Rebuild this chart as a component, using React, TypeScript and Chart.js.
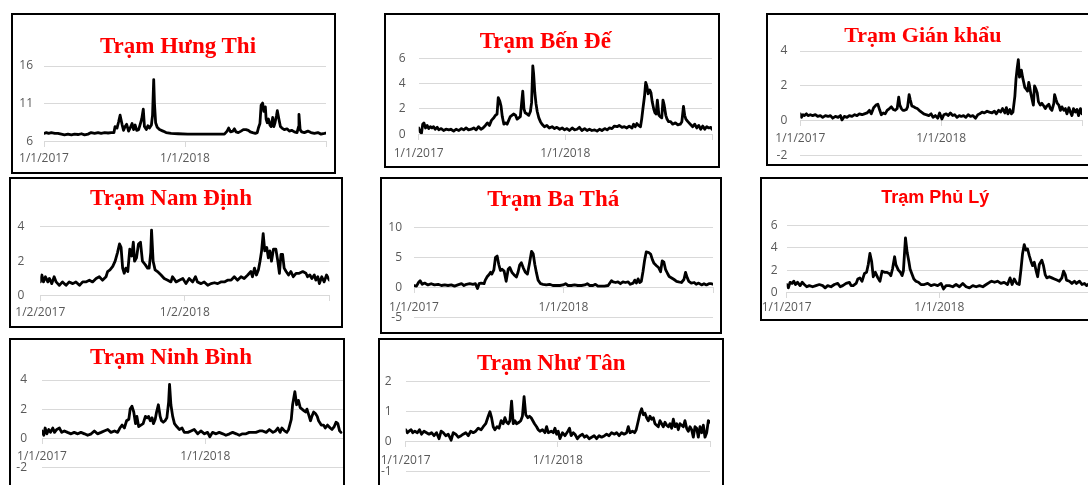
import React, { useEffect, useRef } from 'react';
import { Chart, registerables } from 'chart.js';

Chart.register(...registerables);

// ---- shared x axis (days since 1/1/2017) ----
const xTickDays = [0, 365, 730];
const xTickLabels = ['1/1/2017', '1/1/2018', ''];
const xTickLabelsNamDinh = ['1/2/2017', '1/2/2018', ''];

// ---- Trạm Hưng Thi ----
const hungThiDays = [0,6,12,19,28,36,45,53,62,71,79,88,97,105,114,122,131,140,148,157,166,174,181,184,189,193,197,202,206,210,214,219,223,228,232,236,240,245,249,253,257,260,265,269,273,278,281,284,286,289,293,299,308,316,329,347,372,398,424,450,467,474,478,483,489,493,497,503,510,516,523,529,534,540,547,552,555,559,562,566,569,573,575,578,581,585,588,592,595,598,602,604,608,612,616,622,629,635,641,648,655,659,660,663,667,674,683,691,700,709,717,726,730];
const hungThiValues = [7.1,7.2,7.1,7.2,7.1,7.1,7.0,6.9,7.0,6.9,7.0,6.95,7.05,6.9,7.0,7.2,7.1,7.2,7.1,7.2,7.15,7.2,7.2,8.0,7.8,8.6,9.5,8.3,7.5,8.0,8.3,7.4,7.8,8.4,7.6,8.2,7.5,7.6,8.3,9.0,10.3,8.0,7.6,8.1,7.8,8.2,9.5,14.2,11.0,8.5,7.9,7.6,7.4,7.2,7.1,7.05,7.0,7.0,7.0,7.0,7.0,7.4,7.8,7.3,7.4,7.7,7.3,7.2,7.4,7.6,7.6,7.5,7.3,7.2,7.1,7.2,7.8,8.4,10.8,11.1,10.0,10.6,9.0,8.5,9.0,8.2,8.0,9.2,8.0,8.5,9.5,10.1,9.0,8.0,7.8,7.6,7.7,7.4,7.5,7.3,7.2,8.0,9.6,7.6,7.3,7.2,7.4,7.2,7.1,7.2,7.0,7.1,7.15];

// ---- Trạm Bến Đế ----
const benDeDays = [0,3,7,10,13,17,21,25,29,33,37,41,46,50,56,62,68,75,80,87,93,100,106,112,118,124,131,137,143,149,155,160,166,171,176,181,187,191,195,198,202,205,208,212,216,220,224,228,232,236,241,245,249,253,256,259,262,265,270,274,278,281,284,286,289,292,295,299,303,307,313,319,325,332,338,344,351,357,363,369,375,382,388,394,400,406,413,419,425,431,438,444,450,456,463,469,475,481,487,494,499,506,512,518,524,531,535,539,543,547,552,555,558,562,565,568,571,575,578,581,585,588,591,594,598,601,605,608,611,615,618,622,627,632,639,645,651,655,659,662,665,670,676,682,687,692,697,702,707,712,717,722,727,730];
const benDeValues = [0.5,0.2,0.1,0.8,0.9,0.5,0.7,0.45,0.6,0.5,0.6,0.4,0.55,0.35,0.45,0.3,0.4,0.35,0.4,0.25,0.4,0.3,0.45,0.35,0.5,0.35,0.4,0.5,0.35,0.6,0.4,0.5,0.7,0.9,0.7,1.1,1.3,1.5,1.6,2.9,2.6,2.2,1.4,0.8,0.9,0.8,1.1,1.4,1.5,1.6,1.5,1.2,1.3,1.4,2.4,3.4,2.0,1.7,1.6,1.5,1.8,2.5,5.4,4.8,3.3,2.4,1.8,1.3,1.0,0.8,0.6,0.7,0.5,0.6,0.45,0.55,0.4,0.5,0.35,0.45,0.3,0.5,0.35,0.4,0.55,0.3,0.45,0.3,0.4,0.3,0.35,0.25,0.4,0.3,0.45,0.35,0.5,0.45,0.65,0.6,0.7,0.55,0.6,0.5,0.65,0.5,0.8,0.6,0.85,0.7,0.6,1.2,2.0,3.0,4.1,3.8,3.2,3.5,3.3,2.6,2.0,1.7,1.6,2.7,1.5,1.4,1.3,2.7,2.3,1.5,1.2,1.0,1.0,0.8,0.9,0.75,0.8,1.0,2.2,1.5,1.2,1.0,0.8,0.6,0.8,0.5,0.7,0.4,0.65,0.4,0.6,0.5,0.55,0.4];

// ---- Trạm Gián khẩu ----
const gianKhauDays = [0,3,7,11,16,20,26,32,39,45,52,58,65,72,78,84,91,98,104,108,114,121,127,134,141,147,153,160,166,173,179,184,190,196,201,206,210,215,220,225,231,236,241,246,251,255,258,262,266,270,275,278,282,285,289,294,298,303,308,314,320,326,333,339,344,350,356,361,367,372,378,383,389,395,400,406,412,417,423,429,435,441,447,454,460,465,471,477,484,490,497,503,508,514,519,524,530,534,538,543,547,551,556,559,562,565,568,570,573,576,579,582,586,589,592,594,597,600,604,607,611,614,617,622,626,631,635,639,644,648,652,657,659,663,666,670,674,678,683,687,691,696,700,704,708,713,717,721,726,730];
const gianKhauValues = [0.4,0.2,0.35,0.3,0.4,0.3,0.35,0.3,0.35,0.25,0.3,0.2,0.3,0.25,0.3,0.15,0.25,0.2,0.3,0.05,0.25,0.2,0.3,0.25,0.35,0.3,0.4,0.35,0.4,0.45,0.6,0.4,0.75,0.9,0.95,0.6,0.35,0.45,0.4,0.6,0.7,0.8,0.65,0.6,0.7,1.35,0.9,0.7,0.6,0.6,0.65,0.8,1.5,1.2,0.85,0.8,0.75,0.7,0.6,0.5,0.4,0.35,0.3,0.4,0.2,0.3,0.15,0.45,0.1,0.35,0.4,0.3,0.45,0.3,0.35,0.2,0.3,0.25,0.3,0.2,0.35,0.25,0.3,0.15,0.35,0.4,0.5,0.45,0.55,0.5,0.45,0.55,0.4,0.6,0.5,0.7,0.45,0.75,0.4,0.65,0.4,0.5,1.4,2.4,3.0,3.5,2.5,2.6,2.9,2.5,2.2,1.9,1.8,1.7,2.2,2.0,1.6,1.3,0.9,2.0,1.8,1.6,1.1,0.9,1.0,0.85,0.7,0.85,0.95,0.7,0.6,1.0,1.5,1.2,1.0,0.9,0.6,0.8,0.6,0.7,0.4,0.75,0.5,0.3,0.7,0.5,0.65,0.3,0.7,0.4];

// ---- Trạm Nam Định ----
const namDinhDays = [0,4,8,13,19,23,29,35,40,48,56,65,73,82,90,99,107,115,124,132,141,149,157,166,170,176,183,189,195,200,204,208,212,216,221,226,231,235,238,243,248,253,258,265,271,275,279,281,285,290,296,305,313,322,330,334,343,351,360,368,376,385,392,397,406,414,423,431,440,448,456,465,473,482,490,498,507,515,524,532,536,541,546,551,555,559,563,567,572,576,580,584,589,595,600,604,608,612,616,621,627,633,639,646,654,663,671,675,681,686,692,696,701,705,711,717,723,730];
const namDinhValues = [0.8,1.2,0.8,1.1,0.8,1.0,0.7,1.1,0.8,0.6,0.8,0.6,0.8,0.7,0.8,0.6,0.8,0.8,0.9,0.8,1.0,1.1,0.9,1.1,1.4,1.5,1.7,2.0,2.5,3.0,2.8,1.6,1.3,1.6,1.4,2.7,2.3,3.1,2.0,2.2,3.0,3.1,2.0,1.8,1.6,1.6,2.5,3.8,2.0,1.5,1.4,1.2,1.0,0.9,0.8,1.1,0.8,0.9,1.0,0.7,1.0,0.8,1.1,0.8,0.7,0.8,0.6,0.7,0.75,0.7,0.8,0.8,0.9,0.9,1.1,0.9,1.1,1.0,1.2,1.4,1.1,1.6,1.2,1.5,2.0,2.6,3.6,2.6,2.8,2.2,2.6,2.0,2.7,2.7,2.0,1.3,2.4,2.4,1.6,1.4,1.2,1.4,1.1,1.3,1.3,1.4,1.3,1.1,1.2,1.0,1.2,0.9,1.1,0.7,1.1,0.8,1.2,0.9];

// ---- Trạm Ba Thá ----
const baThaDays = [0,6,11,15,20,26,34,42,50,59,67,75,83,91,99,107,116,122,128,136,144,150,155,159,164,171,174,179,183,187,190,195,199,203,207,211,215,220,225,230,234,239,244,250,254,258,262,267,272,277,282,287,291,295,299,303,309,315,323,331,339,348,356,364,370,376,384,392,400,409,417,423,429,437,443,449,457,465,474,482,486,492,498,504,510,516,523,528,535,539,543,547,551,555,559,563,567,573,578,582,586,592,597,602,606,610,614,619,623,628,635,641,646,653,659,663,667,671,677,684,689,695,702,708,714,720,726,730];
const baThaValues = [0.3,0.2,0.8,1.1,0.5,0.7,0.4,0.6,0.4,0.5,0.3,0.4,0.3,0.4,0.2,0.4,0.6,0.3,0.5,0.6,0.5,0.6,-0.2,0.6,0.7,0.6,1.2,1.8,2.1,2.5,2.2,2.9,5.0,5.2,3.8,2.8,3.0,2.7,1.0,3.0,3.3,2.5,2.1,1.7,2.5,3.7,4.1,3.2,2.5,2.2,4.0,6.0,5.6,3.8,2.4,1.2,0.6,0.5,0.4,0.5,0.3,0.3,0.3,0.4,0.6,0.3,0.3,0.4,0.3,0.3,0.4,0.6,0.3,0.3,0.5,0.2,0.2,0.2,0.3,1.1,0.9,0.8,0.9,0.6,0.9,0.8,0.9,0.5,0.7,1.2,0.7,1.4,0.8,1.0,2.6,4.5,5.9,5.8,5.5,4.6,4.0,3.6,3.3,2.6,4.4,4.2,3.0,2.3,1.8,1.6,1.3,1.0,0.9,0.8,1.3,2.5,1.6,1.0,0.7,0.8,0.5,0.7,0.4,0.6,0.4,0.6,0.6,0.5];

// ---- Trạm Phủ Lý ----
const phuLyDays = [0,4,8,13,17,21,26,32,37,42,48,54,62,70,78,86,92,98,106,114,122,128,134,142,150,154,159,166,170,175,180,186,191,195,199,203,207,212,218,223,228,234,239,245,249,253,258,261,267,272,276,279,284,288,292,295,299,304,309,315,321,329,337,345,353,361,369,375,381,389,397,405,413,421,429,437,445,453,461,469,477,485,490,497,504,512,520,528,534,539,544,550,556,560,564,568,572,576,580,584,588,592,596,600,604,610,614,618,622,628,634,640,646,652,658,662,666,669,676,682,688,693,700,706,712,717,724];
const phuLyValues = [0.7,0.4,0.9,0.8,1.0,0.7,0.9,0.6,0.9,0.7,0.5,0.6,0.5,0.6,0.7,0.6,0.4,0.6,0.5,0.7,0.8,0.5,0.6,0.8,0.9,0.6,0.6,0.8,1.2,1.3,1.0,1.7,1.8,2.5,3.5,2.8,1.4,1.8,1.3,1.0,1.9,1.8,1.8,1.7,1.5,2.1,3.2,2.5,2.0,1.8,1.5,1.9,4.9,3.6,2.8,2.1,1.7,1.2,1.0,0.9,0.7,0.7,0.8,0.6,0.7,0.6,0.8,0.3,0.6,0.6,0.5,0.7,0.5,0.8,0.5,0.4,0.6,0.5,0.6,0.5,0.7,0.9,1.0,0.9,1.0,0.8,0.9,0.7,1.3,0.7,1.2,0.8,0.7,2.0,3.5,4.3,3.8,3.9,3.3,2.8,2.4,2.7,2.0,1.4,2.5,2.9,2.4,1.6,1.3,1.4,1.3,1.2,1.1,1.0,1.3,1.9,1.6,1.1,1.0,0.8,1.0,0.8,1.0,0.7,0.8,0.6,0.8];

// ---- Trạm Ninh Bình ----
const ninhBinhDays = [0,4,7,11,15,19,24,28,33,39,44,50,57,65,72,80,87,95,102,110,117,124,132,139,147,154,162,169,174,179,184,189,194,197,201,205,209,212,216,221,226,231,235,238,242,246,249,253,256,260,264,267,271,275,279,283,285,288,292,296,301,307,313,318,326,333,340,348,355,363,370,375,381,389,396,404,411,419,426,434,441,448,456,463,471,478,486,493,501,508,516,522,527,532,536,542,547,551,557,560,565,569,573,577,581,585,589,592,596,600,603,607,611,615,618,624,629,633,638,644,648,653,657,661,665,668];
const ninhBinhValues = [0.5,0.2,0.7,0.3,0.6,0.4,0.7,0.4,0.6,0.7,0.4,0.5,0.4,0.3,0.4,0.3,0.4,0.3,0.2,0.3,0.5,0.3,0.4,0.5,0.6,0.4,0.5,0.4,0.7,0.9,0.7,1.2,1.3,2.0,2.2,1.8,1.0,1.5,0.8,0.9,1.0,1.5,1.4,1.5,1.2,1.4,1.0,1.3,1.8,2.3,1.5,1.2,1.1,1.2,1.4,2.5,3.7,2.3,1.5,1.0,0.8,0.6,0.7,0.4,0.4,0.5,0.6,0.3,0.5,0.3,0.4,0.1,0.4,0.3,0.4,0.3,0.2,0.3,0.4,0.3,0.2,0.3,0.3,0.4,0.4,0.4,0.5,0.5,0.4,0.6,0.4,0.5,0.7,0.4,0.7,0.5,0.4,0.6,1.3,2.3,3.2,2.3,2.6,2.1,2.0,1.9,1.8,2.0,1.6,1.2,1.5,1.8,1.7,1.5,1.2,0.9,0.9,0.7,0.9,0.7,0.6,0.8,1.1,1.0,0.5,0.4];

// ---- Trạm Như Tân ----
const nhuTanDays = [0,4,8,13,17,22,28,33,38,44,50,56,62,68,74,80,85,90,96,102,109,114,120,126,133,138,144,150,156,162,168,174,181,186,192,198,202,206,210,214,219,224,229,234,238,242,246,250,254,258,262,266,272,276,280,284,288,293,297,301,305,309,314,318,322,328,334,338,342,349,354,358,362,366,370,376,382,389,393,397,402,406,412,418,424,429,434,440,446,452,458,464,470,477,482,488,494,501,506,512,518,524,530,534,538,544,549,553,558,562,566,570,574,578,582,586,590,594,598,602,606,610,614,618,622,626,630,634,638,642,646,650,654,658,662,666,670,674,678,682,686,690,694,698,702,706,710,714,718,722,726,730];
const nhuTanValues = [0.4,0.3,0.35,0.4,0.3,0.35,0.3,0.4,0.25,0.35,0.3,0.25,0.3,0.2,0.3,0.1,0.35,0.3,0.2,0.25,0.05,0.3,0.25,0.15,0.2,0.25,0.3,0.2,0.35,0.3,0.35,0.45,0.4,0.5,0.6,0.85,1.0,0.8,0.5,0.4,0.5,0.45,0.7,0.6,0.8,0.65,0.6,0.7,1.35,0.6,0.7,0.6,0.65,0.7,0.85,1.5,0.9,0.8,0.85,0.8,0.7,0.6,0.5,0.4,0.35,0.4,0.3,0.5,0.3,0.35,0.3,0.45,0.25,0.35,0.1,0.3,0.2,0.35,0.45,0.2,0.3,0.25,0.1,0.2,0.25,0.15,0.2,0.1,0.15,0.2,0.1,0.2,0.15,0.2,0.25,0.2,0.3,0.25,0.3,0.2,0.3,0.25,0.3,0.5,0.3,0.35,0.3,0.4,0.7,0.95,1.1,0.9,0.95,0.8,0.7,0.85,0.75,0.8,0.6,0.55,0.5,0.7,0.6,0.5,0.65,0.55,0.5,0.6,0.45,0.75,0.5,0.6,0.4,0.6,0.55,0.5,0.7,0.45,0.35,0.5,0.4,0.15,0.5,0.45,0.15,0.5,0.3,0.55,0.15,0.3,0.7,0.65];

const TICK_FONT = "'Open Sans', 'Noto Sans', sans-serif";
const TITLE_SERIF = "'Liberation Serif', 'Times New Roman', serif";
const TITLE_SANS = "'Liberation Sans', Arial, sans-serif";

type PanelCfg = {
  title: string;
  serif: boolean;
  titleSize: number;
  titleCx: number;
  titleBase: number;
  days: number[];
  values: number[];
  labels: string[];
  yMin: number;
  yMax: number;
  yStep: number;
  axisAt: number;
  box: [number, number, number, number];
  plot: [number, number, number, number];
  yPad: number;
  xOff: number;
};

const panels: PanelCfg[] = [
  { title: 'Trạm Hưng Thi', serif: true, titleSize: 23, titleCx: 178, titleBase: 53.3, days: hungThiDays, values: hungThiValues, labels: xTickLabels,
    yMin: 6, yMax: 16, yStep: 5, axisAt: 6, box: [11, 13, 325, 161], plot: [44, 326, 66, 141.7], yPad: 11, xOff: 17.3 },
  { title: 'Trạm Bến Đế', serif: true, titleSize: 23, titleCx: 545.3, titleBase: 48.3, days: benDeDays, values: benDeValues, labels: xTickLabels,
    yMin: 0, yMax: 6, yStep: 2, axisAt: 0, box: [384, 13, 336, 155], plot: [418.7, 712, 58.3, 134.3], yPad: 13, xOff: 19.7 },
  { title: 'Trạm Gián khẩu', serif: true, titleSize: 22, titleCx: 922.8, titleBase: 42.3, days: gianKhauDays, values: gianKhauValues, labels: xTickLabels,
    yMin: -2, yMax: 4, yStep: 2, axisAt: 0, box: [766, 13, 334, 153], plot: [800.3, 1082, 51, 155.7], yPad: 13, xOff: 17.3 },
  { title: 'Trạm Nam Định', serif: true, titleSize: 23, titleCx: 171, titleBase: 205.7, days: namDinhDays, values: namDinhValues, labels: xTickLabelsNamDinh,
    yMin: 0, yMax: 4, yStep: 2, axisAt: 0, box: [9, 177, 334, 151], plot: [40.3, 329.3, 226.7, 295.7], yPad: 16, xOff: 17.1 },
  { title: 'Trạm Ba Thá', serif: true, titleSize: 23, titleCx: 553.2, titleBase: 206.7, days: baThaDays, values: baThaValues, labels: xTickLabels,
    yMin: -5, yMax: 10, yStep: 5, axisAt: 0, box: [380, 177, 342, 157], plot: [414, 713, 227.3, 317.3], yPad: 12, xOff: 19.9 },
  { title: 'Trạm Phủ Lý', serif: false, titleSize: 18, titleCx: 935.2, titleBase: 203.3, days: phuLyDays, values: phuLyValues, labels: xTickLabels,
    yMin: 0, yMax: 6, yStep: 2, axisAt: 0, box: [760, 177, 340, 144], plot: [786.7, 1092, 225.7, 292.3], yPad: 9, xOff: 15.7 },
  { title: 'Trạm Ninh Bình', serif: true, titleSize: 23, titleCx: 171, titleBase: 364.3, days: ninhBinhDays, values: ninhBinhValues, labels: xTickLabels,
    yMin: -2, yMax: 4, yStep: 2, axisAt: 0, box: [9, 338, 336, 160], plot: [42, 368.7, 380, 467.3], yPad: 15, xOff: 18.7 },
  { title: 'Trạm Như Tân', serif: true, titleSize: 23, titleCx: 551.3, titleBase: 370, days: nhuTanDays, values: nhuTanValues, labels: xTickLabels,
    yMin: -1, yMax: 2, yStep: 1, axisAt: 0, box: [378, 338, 346, 160], plot: [405.7, 710, 381.7, 471.7], yPad: 14, xOff: 18.6 },
];

function Panel({ p }: { p: PanelCfg }) {
  const ref = useRef<HTMLCanvasElement | null>(null);
  const [bl, bt, bw, bh] = p.box;
  const cl = bl + 2;
  const ct = bt + 2;
  const [pl, pr, pt, pb] = p.plot;
  const cw = Math.ceil(Math.max(bw - 4, pr - cl + 6));
  const ch = Math.ceil(Math.max(bh - 4, pb - ct + 30));

  useEffect(() => {
    // y-axis box spans from the canvas edge to the plot's left edge,
    // so its labels are not clipped.
    const W = pl - cl;
    const tickFont = { family: TICK_FONT, size: 12 };
    const chart = new Chart(ref.current as HTMLCanvasElement, {
      type: 'line',
      data: {
        datasets: [
          {
            data: p.days.map((d, i) => ({ x: d, y: p.values[i] })),
            borderColor: '#000000',
            borderWidth: 2.8,
            pointRadius: 0,
            tension: 0,
            fill: false,
            borderJoinStyle: 'round',
            borderCapStyle: 'round',
          },
        ],
      },
      options: {
        responsive: false,
        animation: false,
        devicePixelRatio: 1,
        events: [],
        layout: {
          padding: {
            left: 0,
            right: cw - (pr - cl),
            top: pt - ct,
            bottom: ch - (pb - ct),
          },
        },
        plugins: { legend: { display: false }, tooltip: { enabled: false }, title: { display: false } },
        scales: {
          x: {
            type: 'linear',
            min: 0,
            max: 730,
            position: { y: p.axisAt },
            afterBuildTicks: (s: any) => {
              s.ticks = xTickDays.map((v) => ({ value: v }));
            },
            afterFit: (s: any) => {
              s.paddingLeft = 0;
              s.paddingRight = 0;
            },
            ticks: {
              autoSkip: false,
              maxRotation: 0,
              minRotation: 0,
              padding: p.xOff - 5 - 7.2,
              color: '#595959',
              font: tickFont,
              callback: (_v: any, i: number) => p.labels[i],
            },
            grid: { display: true, drawOnChartArea: false, drawTicks: true, tickLength: 5, color: '#d9d9d9', lineWidth: 1 },
            border: { display: true, color: '#d9d9d9', width: 1 },
          } as any,
          y: {
            type: 'linear',
            min: p.yMin,
            max: p.yMax,
            afterFit: (s: any) => {
              s.width = W;
            },
            ticks: { stepSize: p.yStep, padding: p.yPad, color: '#595959', font: tickFont },
            grid: { color: '#d9d9d9', lineWidth: 1, drawTicks: false, tickLength: 0 },
            border: { display: false },
          },
        },
      },
    } as any);
    return () => chart.destroy();
  }, []);

  const size = p.titleSize;
  const baseOff = p.serif ? 0.8375 * size : 0.8467 * size;

  return (
    <div
      style={{
        position: 'absolute',
        left: bl,
        top: bt,
        width: bw,
        height: bh,
        border: '2px solid #000',
        boxSizing: 'border-box',
        overflow: 'hidden',
        background: '#fff',
      }}
    >
      <canvas
        ref={ref}
        width={cw}
        height={ch}
        style={{ position: 'absolute', left: 0, top: 0, width: cw, height: ch, display: 'block' }}
      />
      <div
        style={{
          position: 'absolute',
          left: p.titleCx - cl,
          top: p.titleBase - ct - baseOff,
          transform: 'translateX(-50%)',
          whiteSpace: 'nowrap',
          fontFamily: p.serif ? TITLE_SERIF : TITLE_SANS,
          fontWeight: 'bold',
          fontSize: size,
          lineHeight: `${size}px`,
          color: '#ff0000',
        }}
      >
        {p.title}
      </div>
    </div>
  );
}

export default function App() {
  return (
    <div
      style={{
        position: 'fixed',
        left: 0,
        top: 0,
        width: 1088,
        height: 485,
        overflow: 'hidden',
        background: '#fff',
      }}
    >
      {panels.map((p, i) => (
        <Panel key={i} p={p} />
      ))}
    </div>
  );
}
